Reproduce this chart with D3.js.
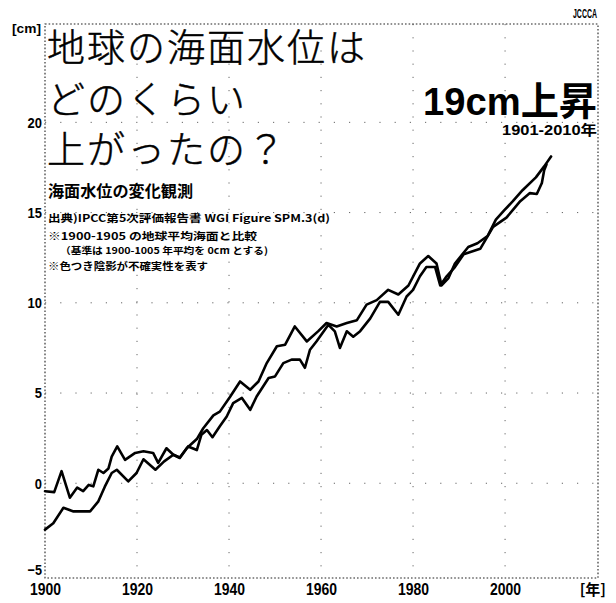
<!DOCTYPE html>
<html><head><meta charset="utf-8">
<script src="https://cdn.jsdelivr.net/npm/d3@7"></script>
<style>
html,body{margin:0;padding:0;background:#fff;}
svg{display:block;}
</style></head>
<body><svg id="c" width="616" height="603"></svg>
<script>
// ---- data (sea level change, cm, relative to 1900-1905) ----
const yearsA = [1900,1902,1903.6,1905.4,1907,1908.3,1909.5,1910.5,1911.6,1912.7,1913.8,1914.5,1915.7,1917.4,1919.6,1921.4,1923.5,1924.6,1926.4,1927.9,1929.3,1930.8,1933,1934.4,1936.6,1938,1940.2,1942.4,1944.6,1946.4,1948.2,1950.4,1952.2,1954.3,1956.9,1959.4,1961.2,1963.4,1965.6,1967.8,1969.9,1972.1,1974.6,1976.8,1979,1981.5,1983.3,1985.1,1986.2,1987.7,1989.1,1992,1994,1996.2,1998,1999.8,2001.7,2003.8,2006.7,2008.5,2010];
const valuesA = [-0.44,-0.49,0.67,-0.8,-0.24,-0.44,-0.09,-0.17,0.75,0.57,0.82,1.48,2.04,1.3,1.68,1.77,1.68,1.13,1.94,1.58,1.43,1.94,2.45,3.05,3.76,3.97,4.78,5.64,5.18,5.64,6.66,7.59,7.68,8.69,7.86,8.43,8.88,8.69,8.88,9.04,9.9,10.15,10.72,10.46,10.96,12.18,12.59,12.18,10.96,11.37,12.18,13.09,13.3,13.7,14.61,15.12,15.63,16.24,16.95,17.56,18.11];
const yearsB = [1900,1901.8,1904,1906.2,1909.8,1911.6,1913,1914.5,1915.6,1918.1,1919.9,1921.4,1924,1925.9,1927.9,1929.3,1931.1,1933,1934,1935.2,1936.4,1938,1939.5,1940.9,1942.8,1944.6,1946,1948.6,1950,1951.8,1953.6,1955.4,1956.5,1957.6,1959,1961.6,1963,1964.1,1965.6,1967,1968.5,1970.7,1972.8,1974.6,1976.8,1978.6,1980,1981.5,1982.9,1984.8,1985.9,1987.3,1989.1,1991,1994.6,1997.4,2000.3,2003.3,2005.4,2006.9,2008,2008.5,2009];
const valuesB = [-2.57,-2.22,-1.36,-1.56,-1.56,-1.0,-0.19,0.57,0.75,0.1,0.57,1.33,0.75,1.21,1.58,1.4,2.04,1.84,2.69,2.95,2.55,3.16,3.7,4.44,4.73,4.07,4.81,5.83,5.92,6.66,6.85,6.85,6.4,7.4,7.86,8.78,8.42,7.5,8.42,8.12,8.43,9.14,10.05,10.05,9.34,10.35,10.72,11.47,11.98,11.98,10.96,11.47,11.98,12.69,12.99,14.21,14.72,15.63,16.08,16.03,16.64,17.35,17.66];
const xTicks = [1900,1920,1940,1960,1980,2000];
const yTicks = [-5,0,5,10,15,20];
const titleLines = ["地球の海面水位は","どのくらい","上がったの？"];
const subtitle = "海面水位の変化観測";
const notes = ["出典)IPCC第5次評価報告書 WGI Figure SPM.3(d)","※1900-1905 の地球平均海面と比較","（基準は 1900-1005 年平均を 0cm とする)","※色つき陰影が不確実性を表す"];
const headline = "19cm上昇";
const period = "1901-2010年";

// ---- layout ----
const svg = d3.select("#c");
const L = 45, R = 598, T = 24, B = 578;
const x = d3.scaleLinear().domain([1900, 2020.2]).range([L, R]);
const y = d3.scaleLinear().domain([-5.25, 25.45]).range([B, T]);

const num = "'Liberation Sans',Arial,sans-serif";
const jp = "'Noto Sans CJK JP','Noto Sans CJK SC',sans-serif";

// grid
const g = svg.append("g");
g.selectAll("line.vg").data(xTicks.filter(d => d > 1900)).join("line")
  .attr("x1", d => x(d)).attr("x2", d => x(d)).attr("y1", T).attr("y2", B)
  .attr("stroke", "#666").attr("stroke-width", 1).attr("stroke-dasharray", "1.2,12");
g.selectAll("line.hg").data(yTicks.filter(d => d > -5)).join("line")
  .attr("x1", L).attr("x2", R).attr("y1", d => y(d)).attr("y2", d => y(d))
  .attr("stroke", "#666").attr("stroke-width", 1).attr("stroke-dasharray", "1.2,14");

// frame
svg.append("rect").attr("x", L).attr("y", T).attr("width", R - L).attr("height", B - T)
  .attr("fill", "none").attr("stroke", "#222").attr("stroke-width", 1.1).attr("stroke-dasharray", "1.6,2");

// axes labels
const xAxis = d3.axisBottom(x).tickValues(xTicks).tickSize(0).tickFormat(d3.format("d"));
const ax = svg.append("g").attr("transform", `translate(0,${B})`).call(xAxis);
ax.select(".domain").remove();
ax.selectAll("text").attr("font-family", num).attr("font-weight", "bold").attr("font-size", 16)
  .attr("fill", "#000").attr("dy", "0").attr("y", 17)
  .attr("textLength", 31).attr("lengthAdjust", "spacingAndGlyphs");

const yAxis = d3.axisLeft(y).tickValues(yTicks).tickSize(0);
const ay = svg.append("g").attr("transform", `translate(${L},0)`).call(yAxis);
ay.select(".domain").remove();
ay.selectAll("text").attr("font-family", num).attr("font-weight", "bold").attr("font-size", 15)
  .attr("fill", "#000").attr("x", -3)
  .attr("dy", d => d === -5 ? "0.1em" : "0.32em")
  .attr("textLength", d => String(d).length * 7.2).attr("lengthAdjust", "spacingAndGlyphs");

svg.append("text").attr("x", 12).attr("y", 33).text("[cm]")
  .attr("font-family", num).attr("font-weight", "bold").attr("font-size", 13)
  .attr("textLength", 29).attr("lengthAdjust", "spacingAndGlyphs");
svg.append("text").attr("x", 606).attr("y", 595).attr("text-anchor", "end").text("[年]")
  .attr("font-family", jp).attr("font-weight", "bold").attr("font-size", 15);

// lines
const line = d3.line().x(d => x(d[0])).y(d => y(d[1])).curve(d3.curveLinear);
[[yearsA, valuesA], [yearsB, valuesB]].forEach(([ys, vs]) => {
  svg.append("path").datum(ys.map((yr, i) => [yr, vs[i]]))
    .attr("d", line).attr("fill", "none").attr("stroke", "#000")
    .attr("stroke-width", 2.6).attr("stroke-linejoin", "round").attr("stroke-linecap", "round");
});

// title
const tb = [61, 113, 163];
titleLines.forEach((t, i) => {
  svg.append("text").attr("x", 47).attr("y", tb[i]).text(t)
    .attr("font-family", jp).attr("font-weight", 300).attr("font-size", 38)
    .attr("letter-spacing", 2).attr("fill", "#000")
    .attr("stroke", "#000").attr("stroke-width", 0.5);
});
svg.append("text").attr("x", 48).attr("y", 197).text(subtitle)
  .attr("font-family", jp).attr("font-weight", "bold").attr("font-size", 16)
  .attr("textLength", 145).attr("lengthAdjust", "spacingAndGlyphs");

const nb = [[48, 222, 282, 10.5], [48, 240, 209, 10.5], [60, 254, 208, 9.5], [48, 270, 160, 10]];
notes.forEach((t, i) => {
  svg.append("text").attr("x", nb[i][0]).attr("y", nb[i][1]).text(t)
    .attr("font-family", jp).attr("font-weight", "bold").attr("font-size", nb[i][3])
    .attr("textLength", nb[i][2]).attr("lengthAdjust", "spacingAndGlyphs");
});

svg.append("text").attr("x", 597).attr("y", 115).attr("text-anchor", "end").text(headline)
  .attr("font-family", "'Liberation Sans',Arial," + jp).attr("font-weight", "bold").attr("font-size", 39)
  .attr("textLength", 174).attr("lengthAdjust", "spacingAndGlyphs");
svg.append("text").attr("x", 597).attr("y", 135).attr("text-anchor", "end").text(period)
  .attr("font-family", num + "," + jp).attr("font-weight", "bold").attr("font-size", 14)
  .attr("textLength", 95).attr("lengthAdjust", "spacingAndGlyphs");

// logo
svg.append("text").attr("x", 585).attr("y", 18).attr("text-anchor", "middle").text("JCCCA")
  .attr("font-family", num).attr("font-size", 12).attr("font-weight", "bold")
  .attr("textLength", 24).attr("lengthAdjust", "spacingAndGlyphs");
</script></body></html>
